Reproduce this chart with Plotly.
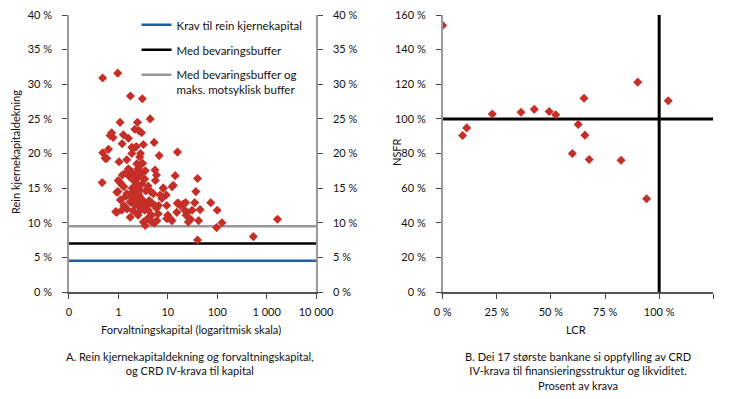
import plotly.graph_objects as go

# ---------------- Data ----------------
# Panel A: forvaltningskapital (mrd. kr, log scale) and rein kjernekapitaldekning (%)
assets = [
    0.48, 0.97, 1.75, 3.05, 1.08, 2.43, 4.4, 0.73, 0.68, 0.78, 1.26, 2.15, 2.6, 2.95,
    1.19, 1.87, 3.2, 5.3, 0.48, 0.63, 6.7, 15.7, 0.54, 1.03, 1.48, 2.0, 1.87, 2.7,
    2.36, 2.75, 5.5, 5.9, 5.6, 14.1, 12.9, 8.1, 40.0, 37.0, 0.47, 0.99, 1.29, 2.97,
    0.93, 1.48, 2.75, 5.1, 7.6, 1.73, 2.19, 2.55, 1.29, 5.5, 9.5, 16.5, 0.93, 1.17,
    2.55, 4.0, 4.7, 6.4, 15.2, 24.5, 1.73, 3.2, 6.0, 9.5, 12.1, 3.5, 1.6, 1.9,
    2.2, 2.5, 1.7, 2.1, 2.4, 1.9, 2.2, 2.6, 1.8, 2.0, 3.0, 3.3, 2.8, 1.5,
    2.0, 3.4, 3.8, 4.2, 3.6, 3.0, 3.4, 1.4, 1.2, 2.8, 2.3, 1.6, 2.5, 3.1,
    3.5, 4.0, 4.5, 4.8, 2.1, 1.1, 1.4, 3.9, 4.6, 1.08, 1.17, 0.98, 0.88, 1.55,
    2.5, 3.9, 5.4, 0.58, 8.1, 12.2, 9.3, 7.0, 15.5, 17.9, 20.5, 23.0, 35.0, 74.0,
    6.5, 5.9, 45.0, 31.0, 100.0, 22.0, 23.5, 10.0, 11.5, 42.0, 29.0, 26.0, 5.2, 125.0,
    97.0, 1660.0, 40.0, 540.0,
]
cet1 = [
    30.9, 31.6, 28.3, 27.9, 24.5, 24.5, 25.0, 23.0, 22.6, 22.3, 22.7, 23.5, 23.3, 23.0,
    21.4, 20.9, 21.3, 21.6, 20.1, 20.6, 19.7, 20.2, 19.3, 18.8, 19.1, 20.7, 20.0, 19.5,
    18.5, 18.3, 17.6, 16.9, 16.1, 16.8, 15.4, 15.0, 16.4, 14.5, 15.8, 16.1, 15.2, 15.6,
    14.4, 14.2, 14.7, 14.2, 13.5, 13.0, 12.5, 13.2, 12.5, 12.5, 12.5, 12.8, 11.5, 11.8,
    11.5, 11.8, 11.1, 11.3, 11.5, 11.5, 10.8, 10.1, 10.3, 10.6, 10.3, 9.6, 17.8, 17.3,
    17.0, 16.5, 16.6, 16.0, 15.5, 15.0, 14.5, 14.0, 14.2, 13.6, 13.4, 12.8, 12.2, 12.0,
    11.7, 11.8, 12.4, 13.2, 14.6, 17.2, 16.3, 17.2, 16.9, 20.0, 21.0, 22.2, 17.8, 18.6,
    17.5, 15.3, 14.5, 12.8, 12.6, 13.3, 13.8, 10.6, 10.2, 15.8, 15.5, 14.5, 11.6, 14.0,
    11.1, 14.9, 10.0, 19.3, 15.0, 15.2, 14.0, 14.0, 12.8, 12.5, 12.7, 12.9, 12.9, 12.9,
    12.5, 12.1, 11.9, 11.8, 11.8, 11.8, 11.1, 11.1, 10.5, 10.3, 10.5, 10.1, 10.0, 10.0,
    9.3, 10.5, 7.5, 8.0,
]

# Capital requirement levels (%)
req_names = ["Krav til rein kjernekapital", "Med bevaringsbuffer",
             "Med bevaringsbuffer og<br>maks. motsyklisk buffer"]
req_levels = [4.5, 7.0, 9.5]
req_colors = ["#1f5fa8", "#000000", "#999999"]

# Panel B: LCR and NSFR (% of requirement) for the 17 largest banks
lcr = [0.0, 9.2, 11.1, 22.9, 36.2, 42.3, 49.2, 52.2, 62.6, 65.3, 65.7, 59.9, 67.7, 82.4, 90.1, 104.2, 94.2]
nsfr = [154.0, 90.4, 94.8, 102.8, 103.8, 105.5, 104.3, 102.4, 96.8, 111.9, 90.6, 80.0, 76.5, 76.1, 121.2, 110.5, 53.9]
lcr_req = 100
nsfr_req = 100

# Tick labels
a_x_ticks = [0.1, 1, 10, 100, 1000, 10000]
a_x_labels = ["0", "1", "10", "100", "1 000", "10 000"]
b_x_ticks = [0, 25, 50, 75, 100, 125]
b_x_labels = ["0 %", "25 %", "50 %", "75 %", "100 %", ""]

A_X_RANGE = [0.1, 10000]

FONT = "Lato, 'Open Sans', sans-serif"
RED = "#c62e28"
TXT = 11.1

fig = go.Figure()

for name, lvl, col in zip(req_names, req_levels, req_colors):
    fig.add_trace(go.Scatter(
        x=A_X_RANGE, y=[lvl, lvl], mode="lines", name=name,
        line=dict(color=col, width=2.5), xaxis="x", yaxis="y",
        legendgroup=name, hoverinfo="skip"))

fig.add_trace(go.Scatter(
    x=assets, y=cet1, mode="markers", showlegend=False,
    marker=dict(symbol="diamond", size=7, color=RED), xaxis="x", yaxis="y"))

fig.add_trace(go.Scatter(
    x=lcr, y=nsfr, mode="markers", showlegend=False,
    marker=dict(symbol="diamond", size=7, color=RED), xaxis="x2", yaxis="y2"))

axis_common = dict(showgrid=False, zeroline=False, ticks="outside", ticklen=5,
                   tickcolor="#444", tickfont=dict(size=11, color="#111"),
                   automargin=False)

fig.update_layout(
    width=730, height=399,
    margin=dict(l=0, r=0, t=15, b=107, autoexpand=False),
    paper_bgcolor="white", plot_bgcolor="white",
    font=dict(family=FONT, size=12, color="#111"),
    showlegend=True,
    legend=dict(x=0.187, y=1.015, xanchor="left", yanchor="top",
                bgcolor="rgba(0,0,0,0)", font=dict(size=11.5),
                traceorder="grouped", tracegroupgap=6, valign="top"),
    xaxis=dict(domain=[0.0945, 0.4329], type="log",
               range=[-1, 4], tickvals=a_x_ticks, ticktext=a_x_labels,
               showline=True, linecolor="#555", linewidth=1.5, anchor="y",
               ticklabelstandoff=4, **axis_common),
    yaxis=dict(domain=[0, 1], range=[0, 40], dtick=5, ticksuffix=" %",
               showline=True, linecolor="#999", linewidth=1.5, anchor="x",
               ticklabelstandoff=8, **axis_common),
    yaxis3=dict(overlaying="y", side="right", range=[0, 40], dtick=5, ticksuffix=" %",
                showline=True, linecolor="#999", linewidth=1.5, anchor="x",
                ticklabelstandoff=8, **axis_common),
    xaxis2=dict(domain=[0.6064, 0.9771], range=[0, 125], tickvals=b_x_ticks,
                ticktext=b_x_labels, showline=True, linecolor="#555", linewidth=1.5,
                anchor="y2", ticklabelstandoff=4, **axis_common),
    yaxis2=dict(domain=[0, 1], range=[0, 160], dtick=20, ticksuffix=" %",
                showline=True, linecolor="#999", linewidth=1.5, anchor="x2",
                ticklabelstandoff=8, **axis_common),
)

# dummy trace to activate right axis of panel A
fig.add_trace(go.Scatter(x=[None], y=[None], xaxis="x", yaxis="y3", showlegend=False))

fig.add_shape(type="line", xref="x2", yref="y2", x0=lcr_req, x1=lcr_req, y0=0, y1=160,
              line=dict(color="black", width=3), layer="below")
fig.add_shape(type="line", xref="x2", yref="y2", x0=-1, x1=125, y0=nsfr_req, y1=nsfr_req,
              line=dict(color="black", width=3), layer="below")

def py(p):
    return (292 - p) / 277.0

ann = [
    dict(text="Forvaltningskapital (logaritmisk skala)", x=191 / 730, y=py(329)),
    dict(text="LCR", x=576 / 730, y=py(329)),
    dict(text="A. Rein kjernekapitaldekning og forvaltningskapital,<br>og CRD IV-krava til kapital",
         x=190 / 730, y=py(363)),
    dict(text="B. Dei 17 største bankane si oppfylling av CRD<br>IV-krava til finansieringsstruktur og likviditet.<br>Prosent av krava",
         x=578 / 730, y=py(371)),
]
for a in ann:
    fig.add_annotation(xref="paper", yref="paper", showarrow=False,
                       xanchor="center", yanchor="middle", align="center",
                       font=dict(size=TXT, color="#111"), **a)

fig.add_annotation(xref="paper", yref="paper", showarrow=False, text="Rein kjernekapitaldekning",
                   x=15 / 730, y=py(152), textangle=-90, xanchor="center", yanchor="middle",
                   font=dict(size=11, color="#111"))
fig.add_annotation(xref="paper", yref="paper", showarrow=False, text="NSFR",
                   x=396 / 730, y=py(152), textangle=-90, xanchor="center", yanchor="middle",
                   font=dict(size=11, color="#111"))

fig.write_html("out.html", config={"displayModeBar": False},
               post_script="document.body.style.margin='0';document.body.style.overflow='hidden';")
